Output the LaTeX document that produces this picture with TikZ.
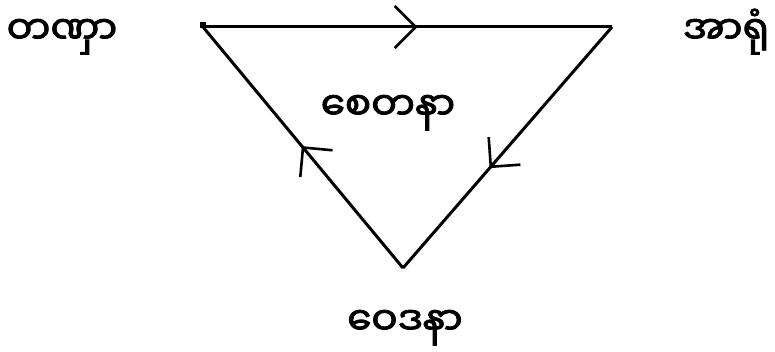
\documentclass[tikz,border=0pt]{standalone}
\usepackage{fontspec}
\newfontfamily\mmfont[Script=Myanmar,FakeBold=2.2]{Noto Sans Myanmar UI}
\usetikzlibrary{decorations.markings}
\tikzset{
  edge/.style={line width=3pt, line cap=butt},
  chev/.style={postaction={decorate}, decoration={markings, mark=at position #1 with {\draw[line width=2.6pt] (-21pt,21pt) -- (0,0) -- (-21pt,-21pt);}}},
  lbl/.style={font=\mmfont\fontsize{39}{46}\selectfont, inner sep=0pt, anchor=base}
}
\begin{document}
\begin{tikzpicture}[x=1pt,y=1pt]
\useasboundingbox (0,0) rectangle (775,351);
\coordinate (A) at (203,324);
\coordinate (B) at (612,324);
\coordinate (C) at (403,83);
\draw[edge, chev=0.52] (A) -- (B);
\draw[edge, chev=0.58] (B) -- (C);
\draw[edge, chev=0.5] (C) -- (A);
\fill (200,323) rectangle (206,329);
\node[lbl] (tanha) at (62,307) {တဏှာ};
\node[lbl] (arom) at (726,307) {အာရုံ};
\node[lbl] (cetana) at (388,231) {စေတနာ};
\node[lbl] (vedana) at (405,16) {ဝေဒနာ};
\end{tikzpicture}
\end{document}
